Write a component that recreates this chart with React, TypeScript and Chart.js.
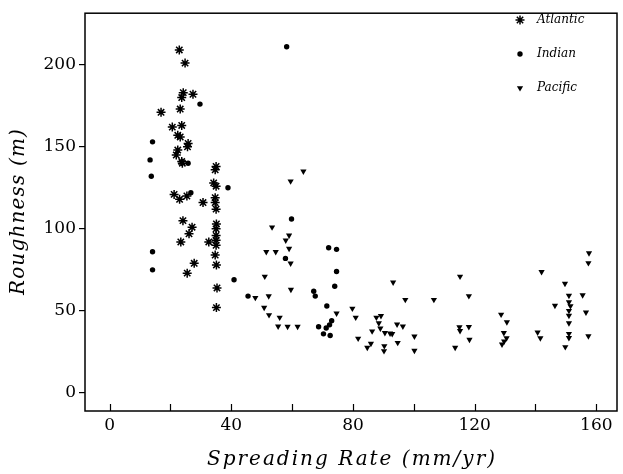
import React, { useEffect, useRef } from 'react';
import { Chart, registerables } from 'chart.js';

Chart.register(...registerables);

// ---- Data ----
const atlanticX = [22.9, 24.8, 24.2, 23.7, 27.4, 16.9, 23.2, 20.6, 23.7, 22.4, 23.2, 25.8, 25.6, 22.4, 21.9, 23.9, 23.7, 35, 34.7, 34.2, 35, 21.2, 23, 25.4, 30.7, 34.7, 34.7, 35, 24.1, 27.1, 26.1, 23.4, 32.6, 35.1, 35, 35, 35, 35, 34.7, 35.1, 27.8, 25.5, 35.3, 35.1];
const atlanticY = [209, 201, 183, 180, 182, 171, 173, 162, 163, 157, 156, 152, 150, 148, 145, 140, 141, 138, 136, 128, 126, 121, 118, 120, 116, 119, 116, 112, 105, 101, 97, 92, 92, 103, 100, 96, 93, 90, 84, 78, 79, 73, 64, 52];

const indianX = [58.2, 29.7, 14.1, 13.3, 13.7, 25.8, 26.7, 38.9, 59.8, 14.1, 14.1, 40.9, 45.5, 57.8, 72, 74.6, 74.6, 74, 67.1, 67.6, 71.4, 73, 72.3, 71.2, 70.3, 72.5, 68.7];
const indianY = [211, 176, 153, 142, 132, 140, 122, 125, 106, 86, 75, 69, 59, 82, 88.5, 87.5, 74, 65, 62, 59, 53, 44, 41.5, 39.6, 36, 35, 40.3];

const pacificX = [63.7, 59.5, 53.4, 59, 57.9, 59, 51.5, 54.6, 59.5, 51, 59.6, 47.9, 52.3, 50.8, 52.4, 55.9, 55.4, 58.5, 61.8,
  74.6, 79.8, 80.9, 81.7, 84.7, 85.9, 86.3, 87.7, 89.2, 88.5, 89, 90.5, 92.2, 92.9, 90.3, 90.2, 93.2, 94.5, 96.4, 94.7, 97.2, 100.2, 100.2, 106.6, 113.6, 115.2, 115, 115.2, 118.1, 118.1, 118.3,
  128.7, 130.6, 129.6, 130.5, 129.7, 129, 142, 140.7, 141.6, 146.4, 149.7, 151, 151, 151.5, 151, 151, 151, 151, 151, 149.8, 155.5, 156.6, 157.4, 157.6, 157.4];
const pacificY = [135, 129, 101, 96, 93, 88, 86, 86, 79, 71, 63, 58, 59, 52, 47.5, 46, 40.6, 40.4, 40.4,
  48.5, 51.5, 46, 33.2, 27.6, 30.1, 37.6, 46, 47, 42.6, 39.4, 36.6, 36.3, 36, 28.6, 25.6, 67.4, 41.8, 40.6, 30.6, 56.8, 34.5, 25.8, 56.8, 27.6, 71, 40.1, 37.8, 59.1, 40.3, 32.5,
  47.8, 43.2, 36.6, 33.4, 31.4, 29.6, 73.8, 36.9, 33.4, 53.2, 66.6, 59.3, 55.4, 53, 50.1, 47.1, 42.6, 36.1, 33.6, 28, 59.6, 49.1, 34.6, 85.2, 79.2];

const seriesNames = ['Atlantic', 'Indian', 'Pacific'];
const xTitle = 'Spreading Rate (mm/yr)';
const yTitle = 'Roughness (m)';
const xTickStep = 20;
const xLabelStep = 40;
const yTickStep = 50;

const toPoints = (xs: number[], ys: number[]) => xs.map((x, i) => ({ x, y: ys[i] }));

function spacedText(ctx: CanvasRenderingContext2D, text: string, cx: number, cy: number, target: number) {
  const anyCtx = ctx as any;
  anyCtx.letterSpacing = '0px';
  const w = ctx.measureText(text).width;
  let sp = (target - w) / Math.max(1, text.length - 1);
  if (sp < 0) sp = 0;
  anyCtx.letterSpacing = sp + 'px';
  ctx.textAlign = 'left';
  ctx.textBaseline = 'middle';
  ctx.fillText(text, cx - target / 2, cy);
  anyCtx.letterSpacing = '0px';
}

const framePlugin = {
  id: 'frameAndText',
  afterDraw(chart: any) {
    const { ctx, chartArea } = chart;
    ctx.save();
    ctx.strokeStyle = '#000';
    ctx.lineWidth = 1.5;
    ctx.strokeRect(chartArea.left, chartArea.top, chartArea.right - chartArea.left, chartArea.bottom - chartArea.top);

    // inward x-axis tick marks, placed by the x scale
    const xs = chart.scales.x;
    ctx.lineWidth = 1.2;
    ctx.beginPath();
    xs.ticks.forEach((t: any) => {
      const px = Math.round(xs.getPixelForValue(t.value)) + 0.5;
      ctx.moveTo(px, chartArea.bottom);
      ctx.lineTo(px, chartArea.bottom - 7);
    });
    ctx.stroke();

    // axis titles
    ctx.fillStyle = '#000';
    ctx.font = 'italic 20px "DejaVu Serif"';
    spacedText(ctx, xTitle, (chartArea.left + chartArea.right) / 2, 460, 288);
    ctx.save();
    ctx.translate(19, (chartArea.top + chartArea.bottom) / 2);
    ctx.rotate(-Math.PI / 2);
    spacedText(ctx, yTitle, 0, 0, 166);
    ctx.restore();

    // legend
    const lx = 520;
    const tx = 537;
    const ys = [20, 54, 88];
    ctx.font = 'italic 12px "DejaVu Serif"';
    ctx.textAlign = 'left';
    ctx.textBaseline = 'middle';
    chart.data.datasets.forEach((ds: any, i: number) => {
      const y = ys[i];
      ctx.fillStyle = '#000';
      ctx.strokeStyle = '#000';
      if (ds.pointStyle === 'star') {
        const r = 4.5;
        ctx.lineWidth = 1.5;
        ctx.beginPath();
        for (let k = 0; k < 4; k++) {
          const a = (k * Math.PI) / 4;
          ctx.moveTo(lx - Math.cos(a) * r, y - Math.sin(a) * r);
          ctx.lineTo(lx + Math.cos(a) * r, y + Math.sin(a) * r);
        }
        ctx.stroke();
      } else if (ds.pointStyle === 'circle') {
        ctx.beginPath();
        ctx.arc(lx, y, 2.7, 0, Math.PI * 2);
        ctx.fill();
      } else {
        const r = 3.6;
        ctx.beginPath();
        ctx.moveTo(lx - r * 0.866, y - r * 0.5);
        ctx.lineTo(lx + r * 0.866, y - r * 0.5);
        ctx.lineTo(lx, y + r);
        ctx.closePath();
        ctx.fill();
      }
      ctx.fillText(ds.label, tx, y);
    });
    ctx.restore();
  },
};

export default function App() {
  const ref = useRef<HTMLCanvasElement | null>(null);
  useEffect(() => {
    document.body.style.margin = '0';
    if (!ref.current) return;
    const chart = new Chart(ref.current, {
      type: 'scatter',
      data: {
        datasets: [
          {
            label: seriesNames[0],
            data: toPoints(atlanticX, atlanticY),
            pointStyle: 'star',
            pointRadius: 4.5,
            borderWidth: 1.5,
            borderColor: '#000',
            backgroundColor: '#000',
          },
          {
            label: seriesNames[1],
            data: toPoints(indianX, indianY),
            pointStyle: 'circle',
            pointRadius: 2.7,
            borderWidth: 0,
            borderColor: '#000',
            backgroundColor: '#000',
          },
          {
            label: seriesNames[2],
            data: toPoints(pacificX, pacificY),
            pointStyle: 'triangle',
            rotation: 180,
            pointRadius: 3.6,
            borderWidth: 0,
            borderColor: '#000',
            backgroundColor: '#000',
          } as any,
        ],
      },
      options: {
        animation: false,
        responsive: false,
        layout: { padding: { top: 7, right: 1, left: 0, bottom: 0 } },
        plugins: { legend: { display: false }, tooltip: { enabled: false } },
        scales: {
          x: {
            type: 'linear',
            min: -8.1,
            max: 166.8,
            afterBuildTicks: (scale: any) => {
              scale.ticks = scale.ticks.filter((t: any) => Math.abs(t.value % xTickStep) < 1e-6);
            },
            afterFit: (scale: any) => { scale.height = 63; },
            ticks: {
              stepSize: xTickStep,
              includeBounds: false,
              color: '#000',
              padding: 4,
              font: { family: '"DejaVu Serif"', size: 17 },
              maxRotation: 0,
              autoSkip: false,
              callback: (v: any) => (Math.abs(v % xLabelStep) < 1e-6 ? String(v) : ''),
            },
            grid: { display: false, drawOnChartArea: false, drawTicks: false },
            border: { display: false },
          },
          y: {
            type: 'linear',
            min: -11,
            max: 231.4,
            afterBuildTicks: (scale: any) => {
              scale.ticks = scale.ticks.filter((t: any) => Math.abs(t.value % yTickStep) < 1e-6);
            },
            afterFit: (scale: any) => { scale.width = 85; },
            ticks: {
              stepSize: yTickStep,
              includeBounds: false,
              color: '#000',
              padding: 3,
              font: { family: '"DejaVu Serif"', size: 17 },
            },
            grid: { display: true, drawOnChartArea: false, drawTicks: true, tickLength: 6, color: '#000', lineWidth: 1.2 },
            border: { display: false },
          },
        },
      } as any,
      plugins: [framePlugin],
    });
    return () => chart.destroy();
  }, []);
  return (
    <div style={{ width: 623, height: 474, background: '#fff' }}>
      <canvas ref={ref} width={623} height={474} style={{ display: 'block' }} />
    </div>
  );
}
